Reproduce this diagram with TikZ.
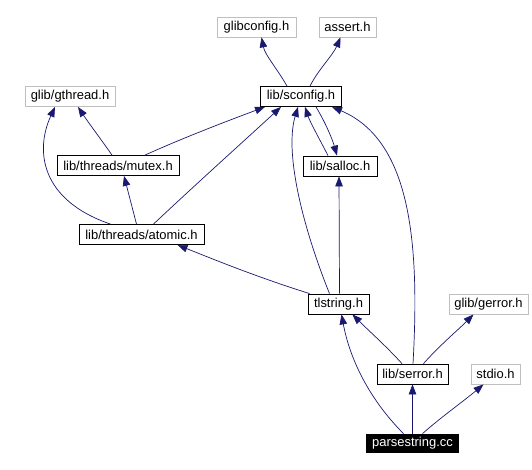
\documentclass[tikz,border=0pt]{standalone}
\usepackage{fontspec}
\setmainfont{Liberation Sans}
\usetikzlibrary{arrows.meta}
\definecolor{edgecol}{HTML}{191970}
\definecolor{graybox}{HTML}{BFBFBF}
\tikzset{
  base/.style={inner sep=0pt, minimum height=20bp, font=\fontsize{13}{15}\selectfont, line width=0.8bp},
  hbox/.style={base, draw=black},
  gbox/.style={base, draw=graybox},
  cbox/.style={base, fill=black, text=white, minimum height=19bp},
  edge/.style={draw=edgecol, line width=0.7bp, -{Triangle[length=10bp,width=7.5bp]}}
}
\begin{document}
\begin{tikzpicture}[x=1bp,y=-1bp]
\useasboundingbox (0,0) rectangle (532,470);
\node[gbox, minimum width=79bp] (glibconfig) at (256.5,27) {glibconfig.h};
\node[gbox, minimum width=57bp] (assert) at (347.5,27) {assert.h};
\node[hbox, minimum width=81bp] (sconfig) at (301,96.5) {lib/sconfig.h};
\node[gbox, minimum width=90bp] (gthread) at (70,96.5) {glib/gthread.h};
\node[hbox, minimum width=122bp] (mutex) at (118,165.5) {lib/threads/mutex.h};
\node[hbox, minimum width=125bp] (atomic) at (141.5,234.5) {lib/threads/atomic.h};
\node[hbox, minimum width=74bp] (salloc) at (340,166) {lib/salloc.h};
\node[hbox, minimum width=61bp] (tlstring) at (338.5,304) {tlstring.h};
\node[gbox, minimum width=79bp] (gerror) at (488.5,304) {glib/gerror.h};
\node[hbox, minimum width=71bp] (serror) at (412.5,374) {lib/serror.h};
\node[gbox, minimum width=49bp] (stdio) at (495.5,374) {stdio.h};
\node[cbox, minimum width=93bp] (parse) at (412.5,443.5) {parsestring.cc};

\draw[edge] ([xshift=-14bp]sconfig.north) .. controls (278,70) and (265,55) .. ([xshift=5bp]glibconfig.south);
\draw[edge] ([xshift=9bp]sconfig.north) .. controls (318,70) and (333,55) .. ([xshift=-7bp]assert.south);
\draw[edge] ([xshift=-6bp]mutex.north) .. controls (100,138) and (88,122) .. ([xshift=8bp]gthread.south);
\draw[edge] ([xshift=-31bp]atomic.north) .. controls (40,200) and (35,150) .. ([xshift=-15bp]gthread.south);
\draw[edge] ([xshift=27bp]mutex.north) .. controls (185,137) and (230,120) .. ([xshift=-36bp]sconfig.south);
\draw[edge] ([xshift=-5bp]atomic.north) -- ([xshift=6bp]mutex.south);
\draw[edge] ([xshift=12bp]atomic.north) .. controls (195,185) and (245,140) .. ([xshift=-20bp]sconfig.south);
\draw[edge] ([xshift=-12bp]salloc.north) .. controls (320,140) and (310,122) .. ([xshift=4bp]sconfig.south);
\draw[edge] ([xshift=15bp]sconfig.south) .. controls (325,122) and (332,138) .. ([xshift=-3bp]salloc.north);
\draw[edge] ([xshift=-9bp]tlstring.north) .. controls (300,220) and (285,150) .. ([xshift=-3bp]sconfig.south);
\draw[edge] ([xshift=1bp]tlstring.north) -- ([xshift=-1bp]salloc.south);
\draw[edge] ([xshift=0.5bp]serror.north) .. controls (420,240) and (410,140) .. ([xshift=31bp]sconfig.south);
\draw[edge] ([xshift=2bp]tlstring.north west) .. controls (260,278) and (220,262) .. ([xshift=36bp]atomic.south);
\draw[edge] ([xshift=-10.5bp]serror.north) .. controls (385,345) and (368,330) .. ([xshift=-17bp]tlstring.south east);
\draw[edge] ([xshift=11bp]serror.north) .. controls (440,345) and (458,330) .. ([xshift=-15bp]gerror.south);
\draw[edge] ([xshift=-9bp]parse.north) .. controls (370,400) and (350,360) .. ([xshift=3bp]tlstring.south);
\draw[edge] (parse.north) -- (serror.south);
\draw[edge] ([xshift=10bp]parse.north) .. controls (440,418) and (465,400) .. ([xshift=-12bp]stdio.south);
\end{tikzpicture}
\end{document}
